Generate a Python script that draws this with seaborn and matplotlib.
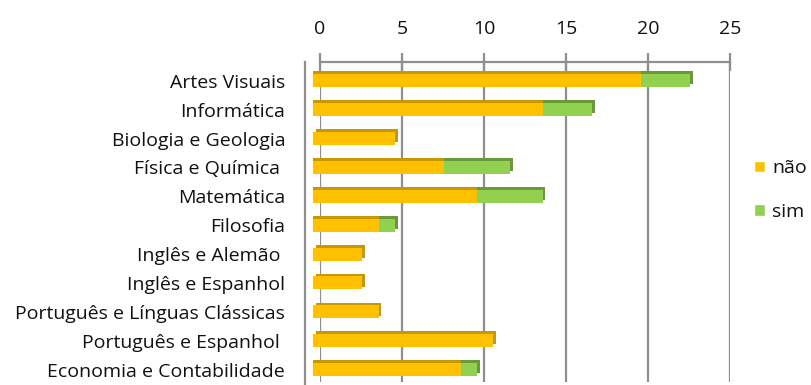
import matplotlib
matplotlib.use("Agg")
import matplotlib.pyplot as plt
import matplotlib.patheffects as pe
from matplotlib.patches import Patch
import numpy as np
import pandas as pd
import seaborn as sns

# Number of answers per course, split by reply
categories = [
    "Artes Visuais",
    "Informática",
    "Biologia e Geologia",
    "Física e Química ",
    "Matemática",
    "Filosofia",
    "Inglês e Alemão ",
    "Inglês e Espanhol",
    "Português e Línguas Clássicas",
    "Português e Espanhol ",
    "Economia e Contabilidade",
]
nao = [20, 14, 5, 8, 10, 4, 3, 3, 4, 11, 9]
sim = [3, 3, 0, 4, 4, 1, 0, 0, 0, 0, 1]
x_ticks = [0, 5, 10, 15, 20, 25]
series_labels = ["não", "sim"]

YELLOW, YELLOW_DARK = "#FFC000", "#C99700"
GREEN, GREEN_DARK = "#92D050", "#6A9A36"
GRID = "#8E8E8E"
FS = 14

df = pd.DataFrame({"curso": categories, "nao": nao, "sim": sim})
df["total"] = df["nao"] + df["sim"]

sns.set_style("white")
plt.rcParams["font.family"] = ["Open Sans", "DejaVu Sans"]
plt.rcParams["font.size"] = FS
plt.rcParams["text.color"] = "#111111"
plt.rcParams["xtick.labelcolor"] = "#111111"
plt.rcParams["ytick.labelcolor"] = "#111111"

W, H = 812, 385
fig = plt.figure(figsize=(W / 100, H / 100), dpi=100)


def frac(x0, y_top, w, h):
    return [x0 / W, 1 - (y_top + h) / H, w / W, h / H]


# Back wall: value gridlines and the top value axis
back = fig.add_axes(frac(320, 62, 410, 320))
back.set_xlim(0, 25)
back.set_ylim(0, 1)
back.set_xticks(x_ticks)
back.set_yticks([])
back.xaxis.tick_top()
back.tick_params(axis="x", direction="inout", length=13, width=1.6,
                 color=GRID, pad=11, labelsize=FS)
back.grid(axis="x", color=GRID, linewidth=1.6)
for side in ["left", "right", "bottom"]:
    back.spines[side].set_visible(False)
back.spines["top"].set_color(GRID)
back.spines["top"].set_linewidth(1.6)
back.set_facecolor("none")

# Front: the stacked bars and the category axis
ax = fig.add_axes(frac(313, 62, 410, 322))
ax.set_facecolor("none")
sns.barplot(data=df, x="total", y="curso", color=GREEN, orient="h",
            width=0.45, saturation=1, errorbar=None, linewidth=0, ax=ax)
sns.barplot(data=df, x="nao", y="curso", color=YELLOW, orient="h",
            width=0.45, saturation=1, errorbar=None, linewidth=0, ax=ax)

# Give each bar a shallow extruded look (top face and right end)
n = len(categories)
green_bars = ax.patches[:n]
yellow_bars = ax.patches[n:2 * n]
for bar in green_bars:
    bar.set_path_effects([pe.SimplePatchShadow(offset=(2, 2), shadow_rgbFace=GREEN_DARK,
                                               alpha=1), pe.Normal()])
for bar, s in zip(yellow_bars, sim):
    off = (2, 2) if s == 0 else (0, 2)
    bar.set_path_effects([pe.SimplePatchShadow(offset=off, shadow_rgbFace=YELLOW_DARK,
                                               alpha=1), pe.Normal()])

ax.set_xlim(0, 25)
ax.set_ylim(n - 0.5, -0.65)
ax.set_xticks([])
ax.set_xlabel("")
ax.set_ylabel("")
ax.set_yticks(range(n))
ax.set_yticklabels(categories)
ax.set_yticks(np.arange(-0.5, n, 1.0), minor=True)
ax.tick_params(axis="y", which="major", length=0, pad=14, labelsize=FS)
ax.tick_params(axis="y", which="minor", length=5, width=1.6, color=GRID)
for side in ["top", "right", "bottom"]:
    ax.spines[side].set_visible(False)
ax.spines["left"].set_position(("outward", 6))
ax.spines["left"].set_color(GRID)
ax.spines["left"].set_linewidth(1.6)

handles = [Patch(facecolor=YELLOW, label=series_labels[0]),
           Patch(facecolor=GREEN, label=series_labels[1])]
fig.legend(handles=handles, loc="center left", bbox_to_anchor=(754 / W, 1 - 190 / H),
           frameon=False, handlelength=0.55, handleheight=0.55, handletextpad=0.4,
           labelspacing=1.3, fontsize=FS, borderpad=0, borderaxespad=0)

fig.savefig("out.png", dpi=100)
